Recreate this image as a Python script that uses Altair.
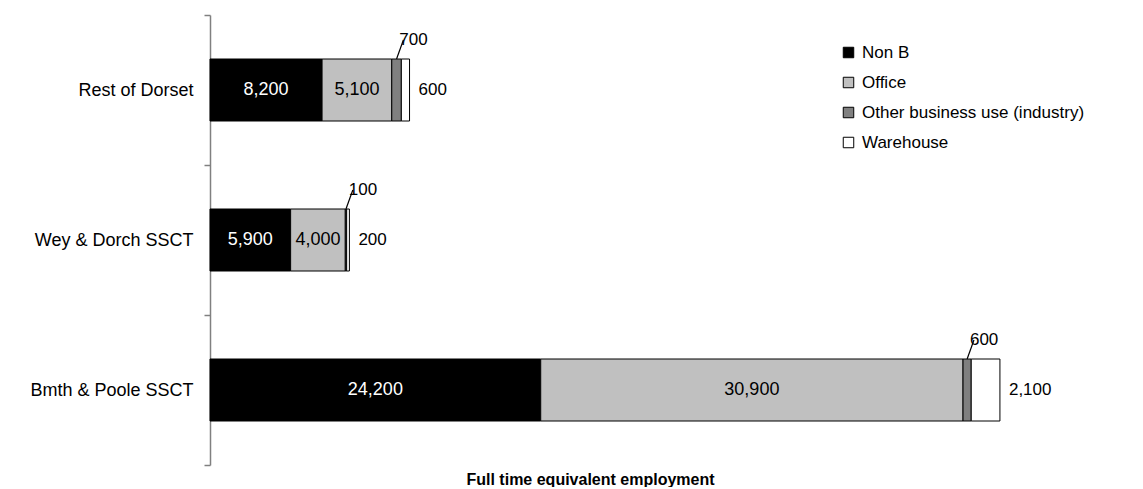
import altair as alt
import pandas as pd

categories = ["Rest of Dorset", "Wey & Dorch SSCT", "Bmth & Poole SSCT"]
series = ["Non B", "Office", "Other business use (industry)", "Warehouse"]
non_b = [8200, 5900, 24200]
office = [5100, 4000, 30900]
other = [700, 100, 600]
warehouse = [600, 200, 2100]
colors = ["#000000", "#C0C0C0", "#808080", "#FFFFFF"]

rows = []
for si, (s, vals) in enumerate(zip(series, [non_b, office, other, warehouse])):
    for c, v in zip(categories, vals):
        rows.append({"cat": c, "series": s, "value": v, "order": si})
df = pd.DataFrame(rows)

FONT = "Liberation Sans"
XTITLE = "Full time equivalent employment"
xscale = alt.Scale(domain=[0, 60000], nice=False)
yscale = alt.Scale(domain=categories, paddingInner=0, paddingOuter=0)

xaxis = alt.Axis(
    labels=False, ticks=False, domain=False, grid=False,
    title=XTITLE,
    titleX=380, titleY=19, titleFontSize=16, titleFontWeight="bold",
    titleAlign="center", titleBaseline="alphabetic", titleColor="black",
    titleFont=FONT,
)
yaxis = alt.Axis(
    tickBand="extent", labelFontSize=18, labelColor="black", labelFont=FONT,
    labelPadding=11, domainColor="#808080", domainWidth=1.5,
    tickColor="#808080", tickWidth=1.5, tickSize=6, grid=False,
)

base = (
    alt.Chart(df)
    .transform_stack(
        stack="value", groupby=["cat"], as_=["x0", "x1"],
        sort=[alt.SortField("order", order="ascending")],
    )
    .transform_calculate(mid="(datum.x0 + datum.x1) / 2", lx2="(datum.x0 + datum.x1) / 2 + 500")
)

def X(field):
    return alt.X(field, scale=xscale, axis=xaxis, title=XTITLE)

def Y():
    return alt.Y("cat:N", scale=yscale, axis=yaxis, title=None)

bars = base.mark_bar(stroke="black", strokeWidth=1, size=62).encode(
    x=X("x0:Q"),
    x2="x1:Q",
    y=Y(),
    color=alt.Color(
        "series:N", title=None,
        scale=alt.Scale(domain=series, range=colors),
        legend=alt.Legend(
            orient="none", legendX=630, legendY=29, symbolType="square",
            symbolSize=110, symbolStrokeColor="black", symbolStrokeWidth=1,
            symbolOpacity=1, labelFontSize=17, labelFont=FONT, labelColor="black",
            rowPadding=12, labelOffset=5, labelLimit=400,
        ),
    ),
    order=alt.Order("order:Q", sort="ascending"),
)

def txt(filter_series):
    return base.transform_filter(alt.datum.series == filter_series)

nonb_text = txt("Non B").mark_text(color="white", fontSize=18, font=FONT).encode(
    x=X("mid:Q"), y=Y(), text=alt.Text("value:Q", format=","),
)
office_text = txt("Office").mark_text(color="black", fontSize=18, font=FONT).encode(
    x=X("mid:Q"), y=Y(), text=alt.Text("value:Q", format=","),
)
other_text = txt("Other business use (industry)").mark_text(
    color="black", fontSize=17, font=FONT, dx=17, dy=-50
).encode(
    x=X("mid:Q"), y=Y(), text=alt.Text("value:Q", format=","),
)
leader = txt("Other business use (industry)").mark_rule(
    color="black", strokeWidth=1.2, yOffset=-31, y2Offset=-50
).encode(
    x=X("mid:Q"), x2="lx2:Q", y=Y(), y2="cat:N",
)
wh_text = txt("Warehouse").mark_text(
    color="black", fontSize=17, font=FONT, align="left", dx=9
).encode(
    x=X("x1:Q"), y=Y(), text=alt.Text("value:Q", format=","),
)

chart = (
    alt.layer(bars, nonb_text, office_text, leader, other_text, wh_text)
    .properties(
        width=820, height=450,
        autosize=alt.AutoSizeParams(type="none"),
        padding={"left": 202, "top": 7, "right": 105, "bottom": 22},
        background="white",
    )
    .configure(font=FONT)
    .configure_view(stroke="transparent", strokeWidth=0)
)

chart.save("out.html", embed_options={"renderer": "svg", "actions": False})
